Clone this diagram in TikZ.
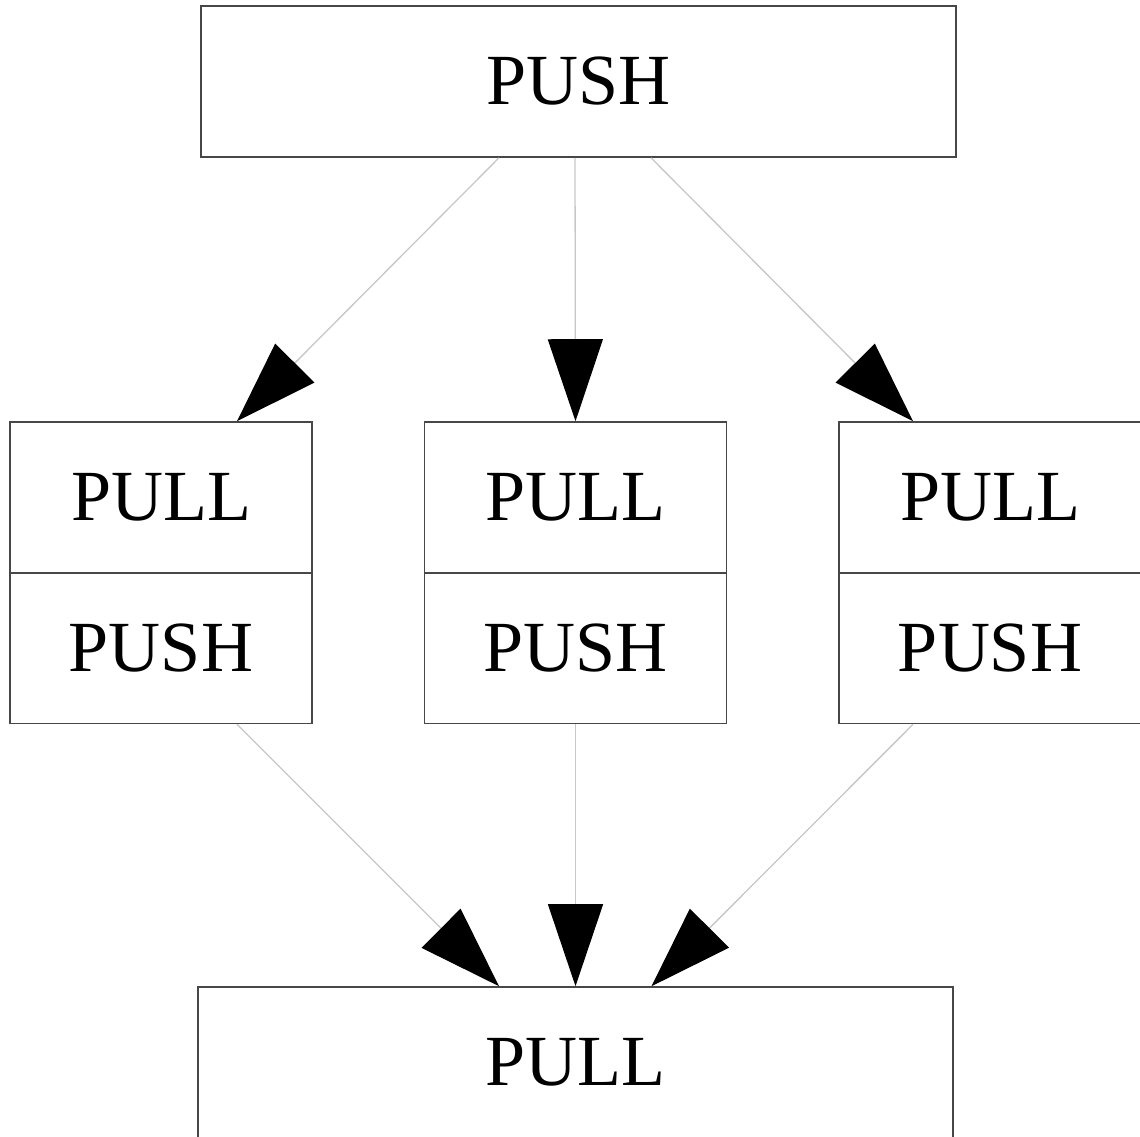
\documentclass[tikz,border=0pt]{standalone}
\usepackage{fontspec}
\setmainfont{Liberation Serif}
\usetikzlibrary{arrows.meta}
\tikzset{
  boxnode/.style={draw=black!72, line width=1.6pt, rectangle, inner sep=0pt,
    font=\fontsize{72}{72}\selectfont, text=black},
  wide/.style={minimum width=755pt, minimum height=151pt},
  half/.style={minimum width=302pt, minimum height=151pt},
  conn/.style={draw=black!22, line width=1.3pt,
    -{Triangle[length=82pt,width=55pt,color=black]}}
}
\begin{document}
\begin{tikzpicture}[x=1pt,y=-1pt]
\useasboundingbox (0,0) rectangle (1140,1137);
% top
\node[boxnode, wide] (top) at (578.5,81.5) {PUSH};
% middle left
\node[boxnode, half] (lpull) at (161,497.5) {PULL};
\node[boxnode, half] (lpush) at (161,648) {PUSH};
% middle centre
\node[boxnode, half] (mpull) at (575.5,497.5) {PULL};
\node[boxnode, half] (mpush) at (575.5,648) {PUSH};
% middle right
\node[boxnode, half] (rpull) at (990,497.5) {PULL};
\node[boxnode, half] (rpush) at (990,648) {PUSH};
% bottom
\node[boxnode, wide] (bot) at (575.5,1062.5) {PULL};
% connectors
\draw[conn] ([xshift=-79.5pt]top.south) -- ([xshift=76pt]lpull.north);
\draw[conn] ([xshift=-3.5pt]top.south) -- (mpull.north);
\draw[conn] ([xshift=72.5pt]top.south) -- ([xshift=-77pt]rpull.north);
\draw[conn] ([xshift=76pt]lpush.south) -- ([xshift=-76.5pt]bot.north);
\draw[conn] (mpush.south) -- (bot.north);
\draw[conn] ([xshift=-77pt]rpush.south) -- ([xshift=76pt]bot.north);
\end{tikzpicture}
\end{document}
